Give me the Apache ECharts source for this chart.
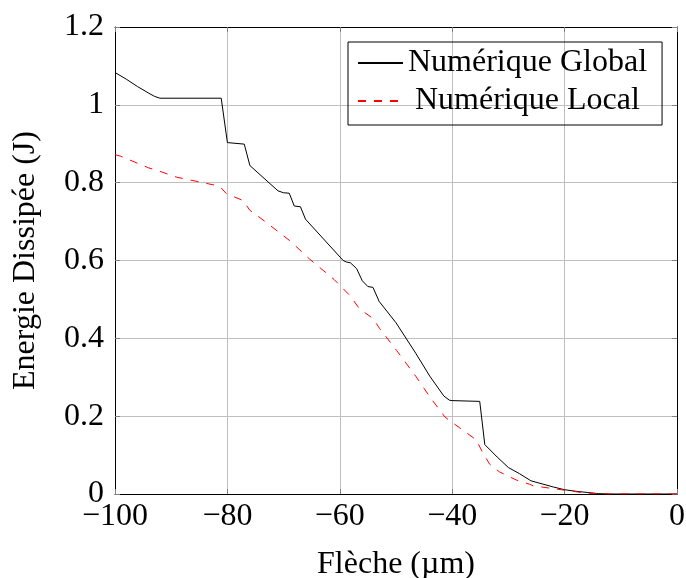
<!DOCTYPE html>
<html>
<head>
<meta charset="utf-8">
<script src="https://cdn.jsdelivr.net/npm/echarts@6/dist/echarts.min.js"></script>
<style>html,body{margin:0;padding:0;background:#fff}#c{width:686px;height:578px}</style>
</head>
<body>
<div id="c"></div>
<script>
// Numérique Global: [flèche (µm), énergie (J)]
const globalData = [
  [-100, 1.083], [-98, 1.066], [-96, 1.047], [-94, 1.030], [-93, 1.022], [-92, 1.017],
  [-81.1, 1.017], [-80, 0.903], [-77, 0.899], [-76, 0.844], [-71, 0.779], [-70, 0.774],
  [-69, 0.773], [-68.1, 0.740], [-67, 0.738], [-66.1, 0.706], [-59.4, 0.600], [-58.8, 0.596],
  [-58.1, 0.594], [-57, 0.579], [-56, 0.548], [-55, 0.533], [-54.1, 0.531], [-53, 0.495],
  [-50, 0.440], [-46.5, 0.362], [-44, 0.303], [-41.5, 0.252], [-40.5, 0.241], [-40, 0.240],
  [-35.1, 0.238], [-34.2, 0.127], [-32, 0.095], [-30, 0.068], [-28, 0.052], [-26, 0.034],
  [-24, 0.026], [-22, 0.018], [-20, 0.011], [-18, 0.007], [-16, 0.004], [-14, 0.001],
  [-12, 0], [0, 0]
];
// Numérique Local
const localData = [
  [-100, 0.872], [-99, 0.868], [-96, 0.850], [-94, 0.838], [-92.6, 0.832], [-89, 0.814],
  [-85, 0.802], [-81.4, 0.791], [-80.2, 0.772], [-77.2, 0.754], [-76, 0.729], [-73, 0.697],
  [-70.7, 0.671], [-68.9, 0.651], [-65.4, 0.604], [-61, 0.551], [-58.2, 0.510], [-56.5, 0.476],
  [-54.1, 0.451], [-52.9, 0.425], [-49.9, 0.369], [-46.4, 0.301], [-44, 0.250], [-41.3, 0.198],
  [-40.4, 0.188], [-35.7, 0.139], [-34.5, 0.104], [-33.3, 0.076], [-31.6, 0.057], [-28.6, 0.036],
  [-26.2, 0.025], [-25.6, 0.021], [-20.1, 0.010], [-16, 0.002], [-12, 0], [0, 0]
];
const seriesNames = ['Numérique Global', 'Numérique Local'];
const xAxisTitle = 'Flèche (µm)';
const yAxisTitle = 'Energie Dissipée (J)';

const FONT = 'Liberation Serif';
const FS = 32;
const minus = v => String(v).replace('-', '\u2212');

const chart = echarts.init(document.getElementById('c'));
const gridLine = { show: true, lineStyle: { color: '#bfbfbf', width: 1 } };
const tick = { show: true, inside: true, length: 5, lineStyle: { color: '#808080', width: 1 } };
const frame = { show: true, onZero: false, lineStyle: { color: '#000', width: 1 } };

chart.setOption({
  animation: false,
  backgroundColor: '#fff',
  grid: { left: 115, right: 9, top: 27, bottom: 84, containLabel: false, outerBoundsMode: 'none' },
  legend: {
    orient: 'vertical',
    left: 348, top: 42,
    padding: [5, 15, 8, 9],
    itemGap: 6,
    itemWidth: 45, itemHeight: 14,
    borderColor: '#000', borderWidth: 1,
    itemStyle: { opacity: 0 },
    data: seriesNames,
    formatter: n => n === seriesNames[1] ? '{sp|}' + n : n,
    textStyle: { fontFamily: FONT, fontSize: FS, color: '#000', lineHeight: 32,
      rich: { sp: { width: 7 } } }
  },
  xAxis: [{
    type: 'value', min: -100, max: 0, interval: 20,
    name: xAxisTitle, nameLocation: 'middle', nameGap: 55,
    nameTextStyle: { fontFamily: FONT, fontSize: FS, color: '#000' },
    axisLine: frame, axisTick: tick, splitLine: gridLine,
    axisLabel: { fontFamily: FONT, fontSize: FS, color: '#000', margin: 7, formatter: minus }
  }, {
    type: 'value', min: -100, max: 0, interval: 20, position: 'top',
    axisLine: frame, axisTick: tick, splitLine: { show: false }, axisLabel: { show: false }
  }],
  yAxis: [{
    type: 'value', min: 0, max: 1.2, interval: 0.2,
    name: yAxisTitle, nameLocation: 'middle', nameGap: 73,
    nameTextStyle: { fontFamily: FONT, fontSize: FS, color: '#000' },
    axisLine: frame, axisTick: tick, splitLine: gridLine,
    axisLabel: { fontFamily: FONT, fontSize: FS, color: '#000', margin: 11 }
  }, {
    type: 'value', min: 0, max: 1.2, interval: 0.2, position: 'right',
    axisLine: frame, axisTick: tick, splitLine: { show: false }, axisLabel: { show: false }
  }],
  series: [{
    name: seriesNames[0], type: 'line', data: globalData, symbol: 'none',
    lineStyle: { color: '#000', width: 1 }, itemStyle: { color: '#000' }
  }, {
    name: seriesNames[1], type: 'line', data: localData, symbol: 'none',
    lineStyle: { color: '#ff0000', width: 1, type: [8, 8] }, itemStyle: { color: '#ff0000' }
  }]
});
</script>
</body>
</html>
